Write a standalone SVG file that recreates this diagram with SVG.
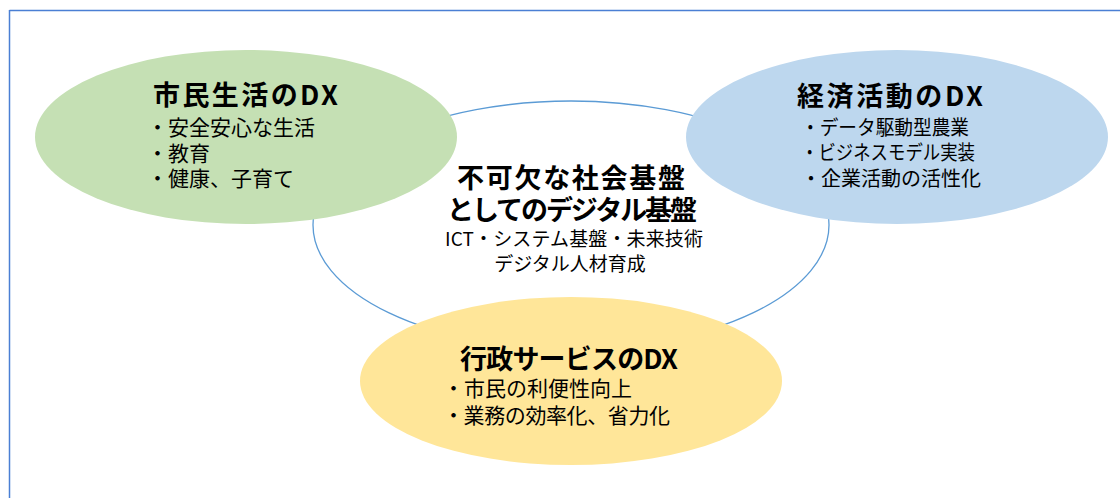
<svg xmlns="http://www.w3.org/2000/svg" width="1120" height="498" viewBox="0 0 1120 498">
<style>
.t{font-family:"Noto Sans CJK JP","Noto Sans",sans-serif;fill:#000}
.h{font-size:27px;font-weight:bold}
.hc{font-size:27px;font-weight:bold}
.b{font-size:21px}
.b2{font-size:20px}
.bc{font-size:19px}
</style>
<rect width="1120" height="498" fill="#fff"/>
<g id="frame" fill="none" stroke="#4a7fd4" stroke-width="1.5">
<line x1="9.5" y1="10.5" x2="1120" y2="10.5"/>
<line x1="9.5" y1="10" x2="9.5" y2="498"/>
</g>
<g id="core">
<ellipse cx="571" cy="225" rx="258" ry="124" fill="#fff" stroke="#5b9bd5" stroke-width="1.3"/>
<text class="t hc" x="571" y="188" text-anchor="middle" textLength="228">不可欠な社会基盤</text>
<text class="t hc" x="572" y="220" text-anchor="middle" textLength="250">としてのデジタル基盤</text>
<text class="t bc" x="574" y="246" text-anchor="middle" textLength="258">ICT・システム基盤・未来技術</text>
<text class="t bc" x="570" y="271" text-anchor="middle">デジタル人材育成</text>
</g>
<g id="citizen">
<ellipse cx="246" cy="137" rx="211" ry="87" fill="#c5e0b4"/>
<text class="t h" x="153" y="105" textLength="185">市民生活のDX</text>
<text class="t b" x="147" y="135">・安全安心な生活</text>
<text class="t b" x="147" y="161">・教育</text>
<text class="t b" x="147" y="186">・健康、子育て</text>
</g>
<g id="economy">
<ellipse cx="897" cy="137" rx="211" ry="87" fill="#bdd7ee"/>
<text class="t h" x="797" y="106" textLength="186">経済活動のDX</text>
<text class="t b2" x="801" y="135" textLength="168" lengthAdjust="spacingAndGlyphs">・データ駆動型農業</text>
<text class="t b2" x="801" y="160" textLength="174" lengthAdjust="spacingAndGlyphs">・ビジネスモデル実装</text>
<text class="t b2" x="801" y="186">・企業活動の活性化</text>
</g>
<g id="government">
<ellipse cx="571" cy="381" rx="211" ry="84" fill="#ffe699"/>
<text class="t h" x="460" y="369" textLength="218">行政サービスのDX</text>
<text class="t b" x="443" y="396">・市民の利便性向上</text>
<text class="t b" x="443" y="423" textLength="227">・業務の効率化、省力化</text>
</g>
<g id="connectors"/>
</svg>
